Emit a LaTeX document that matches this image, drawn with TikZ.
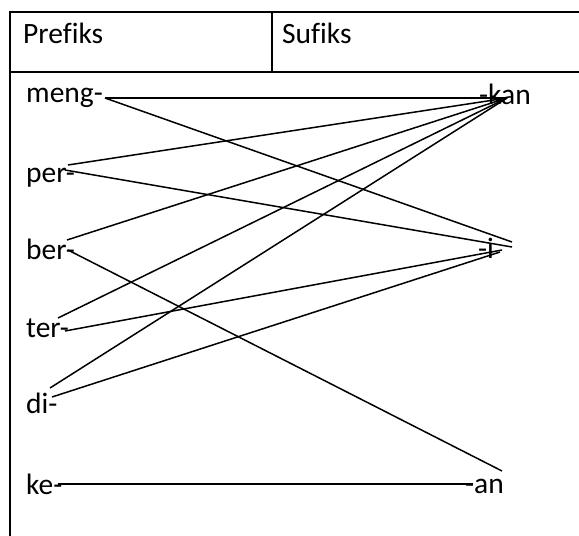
\documentclass[tikz,border=0pt]{standalone}
\usepackage{fontspec}
\setmainfont[Ligatures={NoCommon}]{Carlito}
\begin{document}
\begin{tikzpicture}[x=1pt,y=-1pt,
  lbl/.style={anchor=base west,inner sep=0pt,font=\fontsize{29.5}{35}\selectfont},
  grid/.style={line width=1.2pt,black},
  conn/.style={line width=1.5pt,black}]
\useasboundingbox (0,0) rectangle (579,536);
\fill[white] (0,0) rectangle (579,536);
% table
\draw[grid] (10,536) -- (10,12) -- (579,12);
\draw[grid] (10,72) -- (579,72);
\draw[grid] (272,12) -- (272,72);
% header texts
\node[lbl] (hpre) at (23,43.5) {Prefiks};
\node[lbl] (hsuf) at (282,43.5) {Sufiks};
% prefixes
\node[lbl] (meng) at (26,102.7) {meng-};
\node[lbl] (per) at (26,182) {per-};
\node[lbl] (ber) at (26,259) {ber-};
\node[lbl] (ter) at (26,337) {ter-};
\node[lbl] (di) at (26,413) {di-};
\node[lbl] (ke) at (26,494) {ke-};
% suffixes
\node[lbl] (kan) at (479,104) {-kan};
\node[lbl] (i) at (478,258) {-i};
\node[lbl] (an) at (465,493) {-an};
% connector ends
\coordinate (mengP) at (105,98);
\coordinate (perA) at (68,165);
\coordinate (perB) at (65,170);
\coordinate (berA) at (67,240);
\coordinate (berB) at (68,250);
\coordinate (terA) at (58,318);
\coordinate (terB) at (65,331);
\coordinate (diA) at (50,388);
\coordinate (diB) at (52,397);
\coordinate (keP) at (58,484);
\coordinate (kanH) at (507,98);
\coordinate (kanP) at (507,98);
\coordinate (iA) at (512,242);
\coordinate (iB) at (512,247);
\coordinate (iC) at (502,250);
\coordinate (iD) at (500,252);
\coordinate (anA) at (502,471);
\coordinate (anB) at (473,484);
% connectors
\draw[conn] (mengP) -- (kanH);
\draw[conn] (mengP) -- (iA);
\draw[conn] (perA) -- (kanP);
\draw[conn] (perB) -- (iB);
\draw[conn] (berA) -- (kanP);
\draw[conn] (berB) -- (anA);
\draw[conn] (terA) -- (kanP);
\draw[conn] (terB) -- (iC);
\draw[conn] (diA) -- (kanP);
\draw[conn] (diB) -- (iD);
\draw[conn] (keP) -- (anB);
\end{tikzpicture}
\end{document}
